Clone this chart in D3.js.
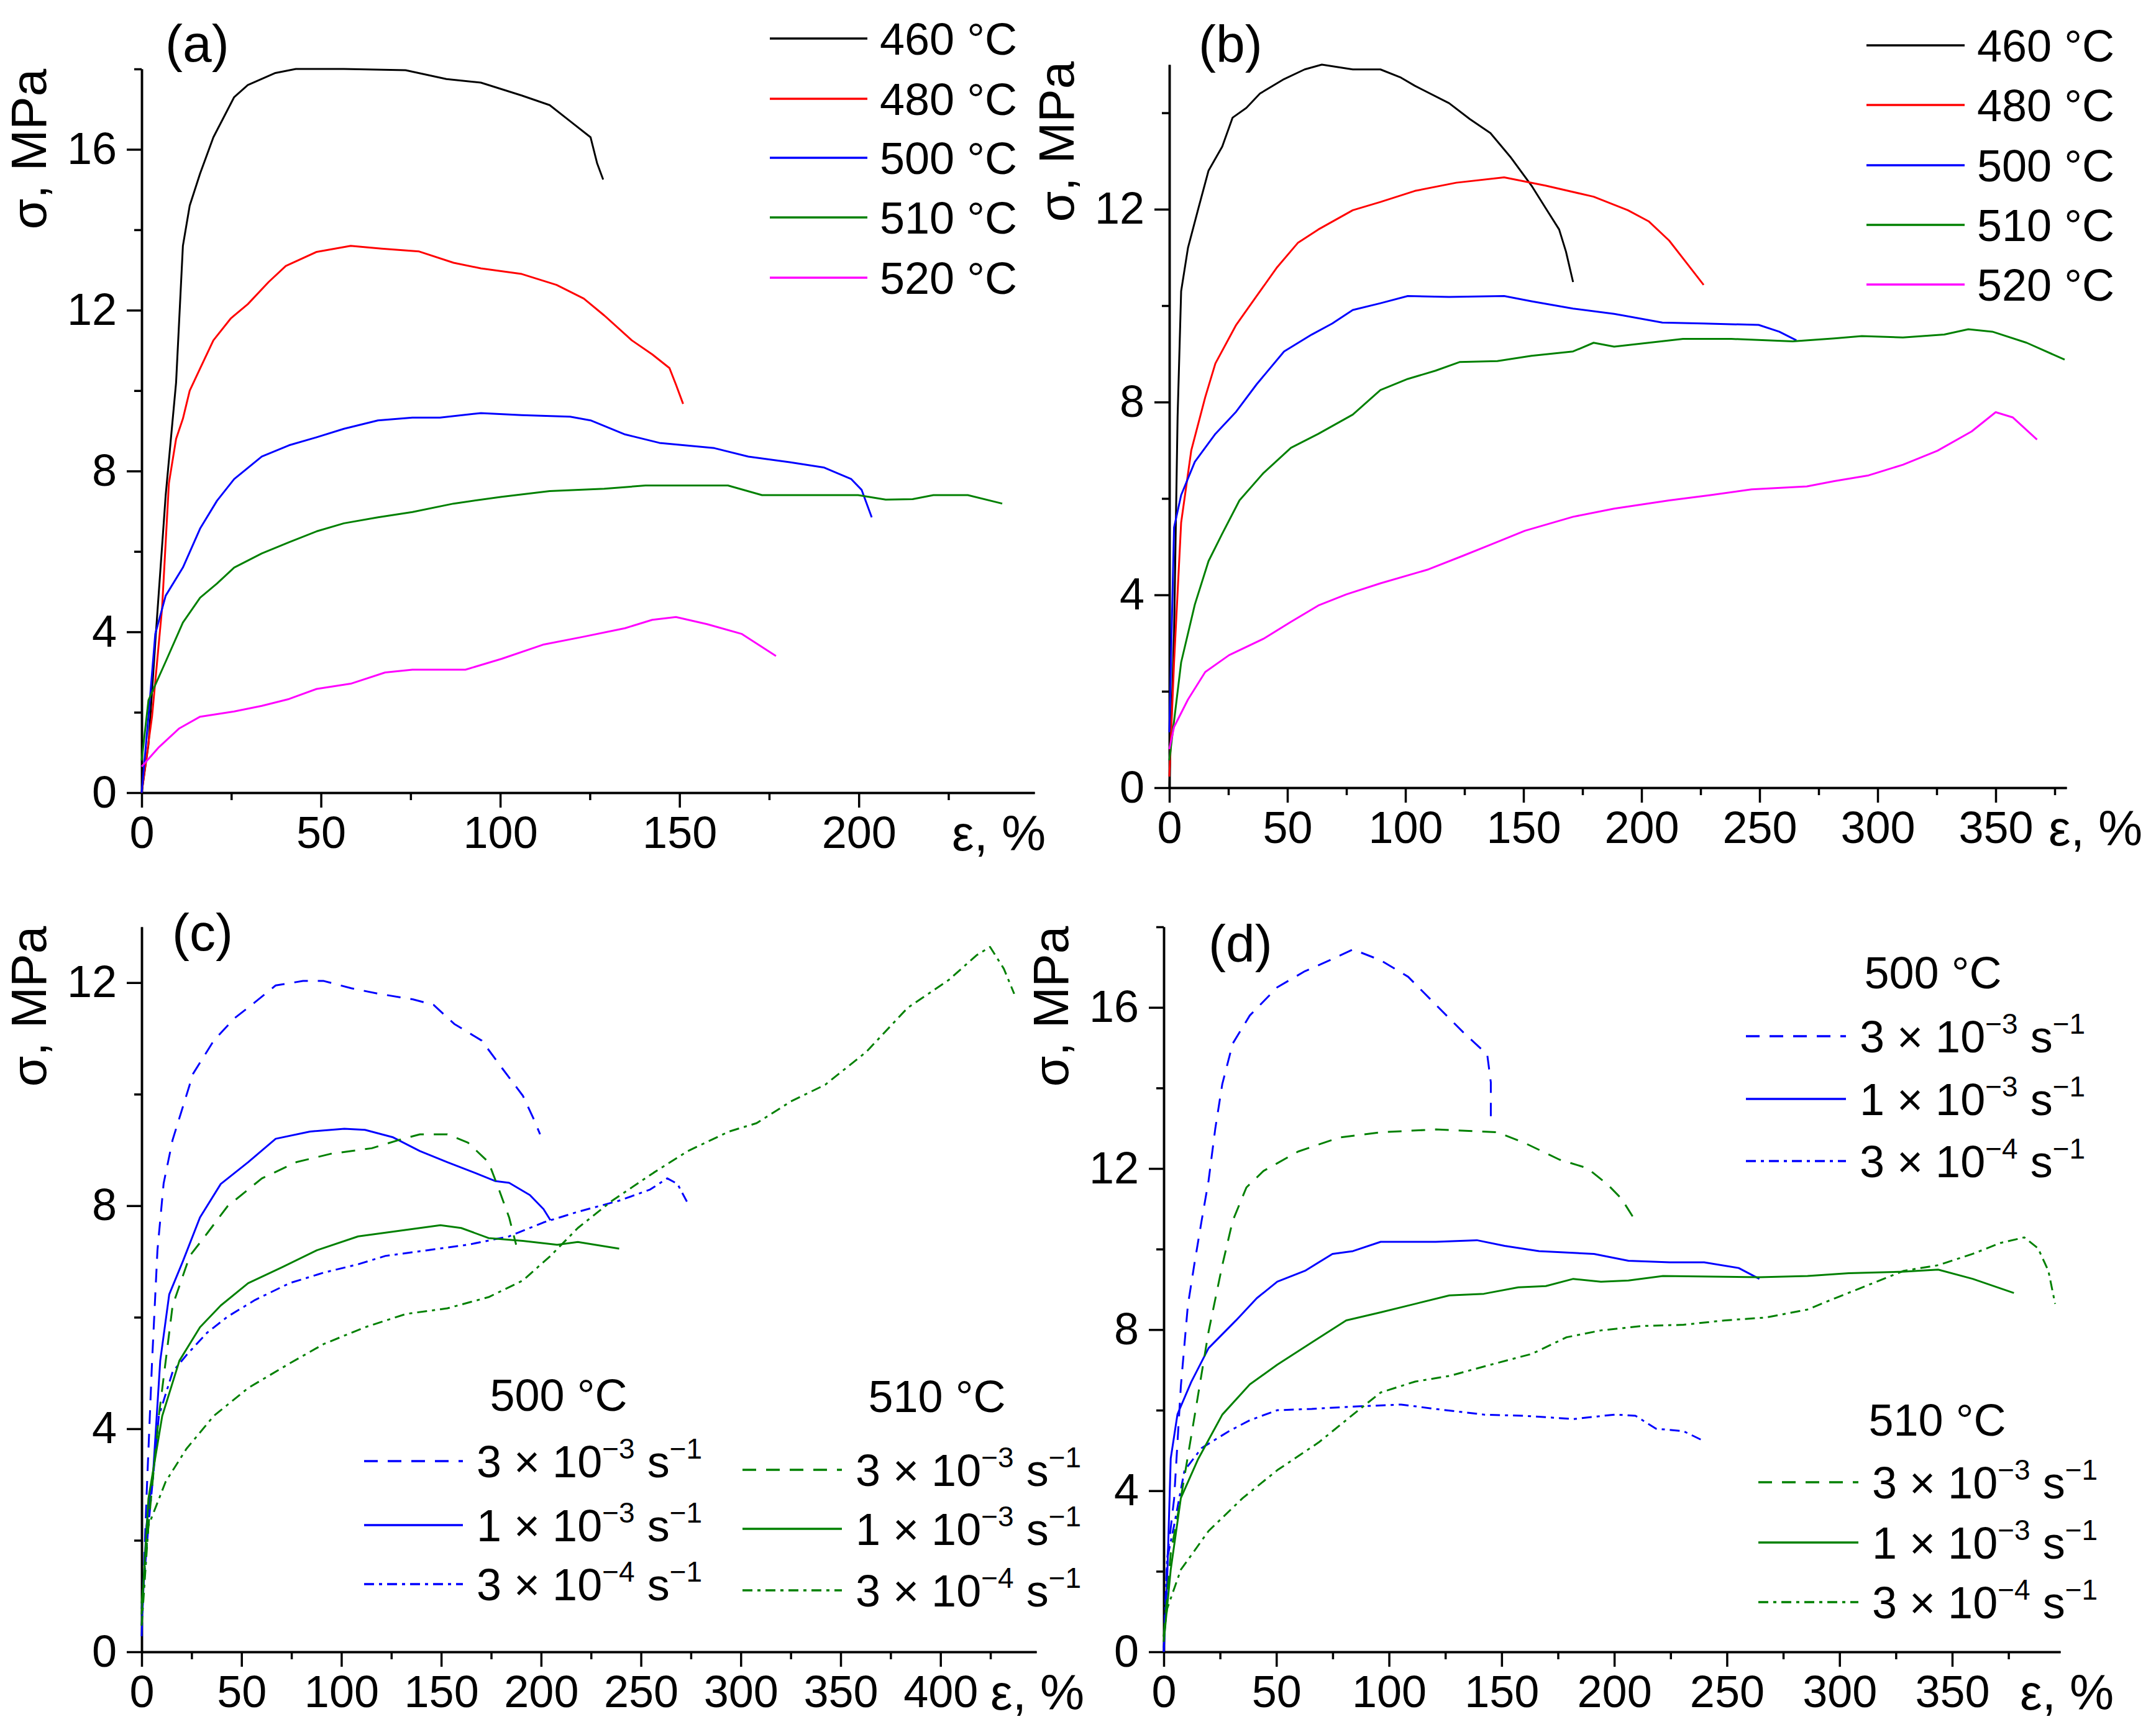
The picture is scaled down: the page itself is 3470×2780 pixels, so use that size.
<!DOCTYPE html>
<html>
<head>
<meta charset="utf-8">
<script src="https://cdnjs.cloudflare.com/ajax/libs/d3/7.8.5/d3.min.js"></script>
<style>
body { margin: 0; background: #fff; }
svg { display: block; font-family: "Liberation Sans", Arial, sans-serif; }
.axis path, .axis line { stroke: #000; stroke-width: 3.5; }
.axis text { font-size: 72px; fill: #000; font-family: "Liberation Sans", Arial, sans-serif; }
.curve { fill: none; stroke-width: 3; stroke-linejoin: round; }
</style>
</head>
<body>
<div id="chart"></div>
<script>
var width = 3470,
    height = 2780;

// ---- (a) temperatures, 1e-3 s-1 : [strain %, stress MPa]
var a460 = [[0,0],[1.9,1.2],[4,4],[6.7,7.4],[9.6,10.2],[11.5,13.6],[13.4,14.6],[16.3,15.4],[20,16.3],[25.8,17.3],[29.6,17.6],[37.3,17.9],[43,18.0],[56.4,18.0],[73.6,17.97],[85,17.75],[94.6,17.66],[106,17.34],[113.8,17.1],[119.5,16.7],[125.2,16.3],[127,15.66],[128.7,15.25]];
var a480 = [[0,0],[2.9,1.9],[5.7,4.6],[7.6,7.7],[9.6,8.8],[11.5,9.3],[13.4,10.0],[16.3,10.55],[20,11.25],[24.9,11.8],[29.6,12.15],[35.4,12.7],[40.2,13.1],[48.8,13.45],[58.3,13.6],[66.9,13.53],[77.4,13.46],[87,13.18],[94.6,13.04],[106,12.9],[115.7,12.63],[123.3,12.29],[129,11.87],[136.7,11.25],[142.4,10.9],[147.2,10.56],[149,10.15],[151,9.67]];
var a500 = [[0,0],[1.9,1.9],[3.8,3.95],[6.7,4.9],[11.5,5.6],[16.3,6.57],[21,7.26],[25.8,7.8],[33.5,8.36],[41.1,8.64],[48.8,8.84],[56.4,9.05],[65.9,9.26],[75.5,9.33],[83.2,9.33],[94.6,9.44],[106,9.39],[119.5,9.35],[125.2,9.26],[134.8,8.91],[144.4,8.7],[159.7,8.57],[169.2,8.36],[180.7,8.22],[190.2,8.09],[197.9,7.8],[200.8,7.53],[203.6,6.85]];
var a510 = [[0,0.8],[1.9,2.3],[6.7,3.26],[11.5,4.23],[16.3,4.85],[21,5.2],[25.8,5.6],[33.5,5.95],[41.1,6.23],[48.8,6.5],[56.4,6.7],[65.9,6.85],[75.5,6.98],[87,7.19],[100.4,7.36],[113.8,7.5],[129,7.56],[140.5,7.64],[163.5,7.64],[173,7.4],[199.8,7.4],[207.5,7.29],[215,7.3],[220.8,7.4],[230.4,7.4],[240,7.19]];
var a520 = [[0,0.65],[4.8,1.13],[10.5,1.6],[16.3,1.89],[25.8,2.02],[33.5,2.16],[41.1,2.33],[48.8,2.58],[58.3,2.71],[67.9,2.99],[75.5,3.06],[90.3,3.06],[100.4,3.33],[111.9,3.68],[123.3,3.88],[134.8,4.09],[142.4,4.3],[149,4.37],[157.7,4.19],[167.3,3.95],[176.9,3.4]];

// ---- (b) temperatures, 3e-4 s-1
var b460 = [[0,0],[2,3.2],[3.5,7.7],[5,10.3],[7.9,11.2],[12.2,12.0],[16.6,12.8],[22.4,13.3],[26.8,13.9],[32.6,14.1],[38.4,14.4],[48.6,14.7],[57.3,14.9],[64.6,15.0],[77.7,14.9],[89.4,14.9],[98.1,14.73],[104,14.56],[118.5,14.2],[127.3,13.87],[136,13.58],[144.7,13.07],[153.4,12.49],[159.3,12.03],[165.1,11.58],[168,11.12],[171,10.49]];
var b480 = [[0,0.23],[2,2.6],[5,5.5],[9.3,7.0],[15.2,8.1],[19.5,8.8],[28.3,9.6],[37,10.2],[45.7,10.8],[54.4,11.3],[63.1,11.58],[77.7,11.98],[89.4,12.15],[104,12.38],[121.5,12.55],[141.8,12.66],[159.3,12.49],[179.7,12.26],[194.2,11.98],[203,11.75],[211.7,11.35],[219,10.89],[226.3,10.43]];
var b500 = [[0,1.15],[2,5.4],[5,6.07],[10.8,6.76],[19.5,7.34],[28.3,7.8],[37,8.37],[48.6,9.05],[60.3,9.4],[69,9.63],[77.7,9.91],[89.4,10.05],[101,10.2],[118.5,10.18],[141.8,10.2],[153.4,10.09],[171,9.94],[188.4,9.83],[208.8,9.65],[226.3,9.63],[249.6,9.6],[258.3,9.46],[265.6,9.28]];
var b510 = [[0,0.57],[5,2.6],[10.8,3.8],[16.6,4.7],[22.4,5.27],[29.7,5.96],[39.9,6.53],[51.5,7.05],[63.1,7.34],[77.7,7.74],[89.4,8.25],[101,8.48],[112.7,8.65],[122.9,8.83],[138.9,8.85],[153.4,8.96],[171,9.05],[179.7,9.23],[188.4,9.15],[203,9.23],[217.6,9.31],[238,9.31],[264,9.26],[281.6,9.32],[293.3,9.37],[310.7,9.34],[328.2,9.4],[338.4,9.51],[348.6,9.46],[363.1,9.23],[379.2,8.88]];
var b520 = [[0,0.8],[2,1.26],[7.9,1.83],[15.2,2.4],[25.3,2.75],[39.9,3.09],[51.5,3.44],[63.1,3.78],[74.9,4.01],[89.4,4.24],[109.8,4.53],[124.3,4.81],[136,5.04],[150.6,5.33],[171,5.62],[188.4,5.79],[211.7,5.96],[229.2,6.07],[246.6,6.19],[270,6.25],[281.6,6.36],[296.2,6.48],[310.7,6.7],[325.3,6.99],[339.8,7.39],[350,7.79],[357.3,7.68],[367.5,7.22]];

// ---- (c) strain rates at 500 and 510 C
var c500r3e3 = [[0,0.28],[2.4,2.75],[5.2,5.2],[7.9,7.2],[11,8.4],[15.5,9.18],[20.6,9.77],[25.8,10.37],[36.1,10.96],[46.4,11.36],[56.8,11.65],[67.1,11.95],[80.8,12.03],[91.2,12.03],[104.9,11.9],[118.7,11.8],[135.9,11.7],[146.2,11.6],[156.5,11.26],[170.3,10.96],[180.6,10.46],[190.9,9.97],[196.1,9.57],[199.5,9.28]];
var c500r1e3 = [[0,0.47],[2.4,2.26],[5.8,3.24],[9.3,5.22],[13.8,6.41],[20.6,7.0],[29.2,7.79],[39.6,8.39],[53.3,8.78],[67.1,9.2],[84.3,9.33],[101.5,9.38],[111.8,9.36],[125.6,9.23],[139.3,8.98],[153.1,8.78],[166.8,8.59],[177.2,8.44],[184,8.41],[194.4,8.19],[201.2,7.94],[204.7,7.74]];
var c500r3e4 = [[0,0.77],[3.4,2.26],[8.6,4.23],[15.5,5.02],[22.4,5.32],[32.7,5.72],[43,6.01],[56.8,6.31],[74,6.61],[91.2,6.8],[108.4,6.95],[122.1,7.1],[142.8,7.2],[163.4,7.3],[184,7.45],[201.2,7.7],[218.4,7.89],[239.1,8.09],[254.6,8.29],[263.2,8.49],[268.3,8.39],[273.5,8.04]];
var c510r3e3 = [[0,0.87],[3.4,2.26],[8.6,4.23],[15.5,6.21],[24.1,7.1],[32.7,7.5],[43,7.99],[60.2,8.49],[77.4,8.78],[94.6,8.93],[115.2,9.03],[129,9.18],[139.3,9.28],[153.1,9.28],[163.4,9.13],[173.7,8.78],[178.9,8.29],[184,7.79],[187.5,7.3]];
var c510r1e3 = [[0,0.67],[3.4,2.75],[10.3,4.23],[18.9,5.22],[29.2,5.82],[39.6,6.21],[53.3,6.61],[70.5,6.9],[87.7,7.2],[108.4,7.45],[129,7.55],[149.6,7.65],[160,7.6],[173.7,7.42],[190.9,7.37],[208.1,7.3],[218.4,7.35],[239.1,7.23]];
var c510r3e4 = [[0,0.47],[3.4,2.26],[12,3.05],[22.4,3.64],[36.1,4.23],[53.3,4.73],[74,5.17],[91.2,5.52],[111.8,5.82],[132.5,6.06],[153.1,6.16],[173.7,6.36],[190.9,6.66],[204.7,7.1],[218.4,7.6],[235.6,8.09],[256.3,8.59],[273.5,8.98],[294.1,9.33],[307.9,9.48],[325.1,9.87],[342.3,10.17],[362.9,10.76],[383.6,11.55],[404.2,12.05],[418,12.49],[424.8,12.64],[431.7,12.25],[436.9,11.8]];

// ---- (d) strain rates at 500 and 510 C, second material state
var d500r3e3 = [[0,0],[1.5,2.3],[4.6,3.8],[7.6,6.6],[10.7,8.6],[13.8,9.7],[16.8,10.7],[19.9,11.7],[22.9,13.0],[26,14.1],[30.6,15.1],[38.2,15.8],[50.4,16.5],[62.7,16.9],[74.9,17.2],[84,17.44],[96.3,17.17],[108.5,16.76],[120.7,16.07],[133,15.38],[143.6,14.83],[145.2,14.14],[145.2,13.3]];
var d500r1e3 = [[0,0],[1.5,1.76],[3.1,4.8],[6.1,5.9],[12.2,6.7],[19.9,7.54],[32.1,8.23],[41.3,8.78],[50.4,9.19],[62.7,9.46],[74.9,9.88],[84,9.95],[96.3,10.18],[120.7,10.18],[139,10.22],[151.3,10.08],[166.6,9.95],[191,9.88],[206.3,9.71],[224.6,9.67],[239.9,9.67],[255.2,9.53],[264.4,9.26]];
var d500r3e4 = [[0,0.1],[1.5,2.3],[4.6,3.14],[9.2,4.5],[16.8,5.06],[29,5.48],[38.2,5.75],[50.4,6.0],[65.7,6.03],[84,6.09],[105.4,6.14],[120.7,6.03],[142.1,5.89],[160.4,5.86],[181.8,5.78],[200.2,5.89],[209.4,5.86],[218.5,5.54],[230.7,5.48],[238.4,5.27]];
var d510r3e3 = [[0,0.38],[3.1,2.45],[7.6,3.82],[13.8,5.89],[19.9,7.95],[26,9.6],[30.6,10.7],[36.7,11.53],[44.3,11.94],[59.6,12.42],[77.9,12.77],[96.3,12.9],[120.7,12.97],[148.2,12.9],[160.4,12.63],[175.7,12.22],[188,12.01],[197.1,11.6],[203.2,11.25],[209.4,10.7]];
var d510r1e3 = [[0,0.25],[3.1,2.04],[7.6,3.82],[15.3,4.79],[26,5.89],[38.2,6.64],[50.4,7.13],[65.7,7.68],[81,8.23],[96.3,8.43],[111.6,8.64],[126.8,8.85],[142.1,8.89],[157.4,9.05],[169.6,9.08],[181.8,9.26],[194.1,9.19],[206.3,9.22],[221.6,9.33],[264.4,9.3],[285.8,9.33],[304.1,9.4],[328.5,9.44],[343.8,9.49],[359.1,9.26],[377.4,8.91]];
var d510r3e4 = [[0,0.38],[1.5,1.07],[7.6,2.04],[19.9,3.0],[35.1,3.82],[50.4,4.51],[68.8,5.2],[84,5.89],[96.3,6.44],[111.6,6.71],[126.8,6.85],[145.2,7.13],[163.5,7.4],[178.8,7.81],[194.1,7.98],[212.4,8.09],[230.7,8.12],[249.1,8.23],[267.4,8.3],[285.8,8.5],[298,8.78],[313.3,9.12],[328.5,9.46],[343.8,9.6],[359.1,9.88],[371.3,10.15],[382,10.29],[388.1,10.02],[392.7,9.46],[395.7,8.64]];

// ---- labels and ticks
var tempLabels = ['460 °C', '480 °C', '500 °C', '510 °C', '520 °C'];
var tempColors = ['#000000', '#ff0000', '#0000ff', '#008000', '#ff00ff'];
var rateMantissa = ['3', '1', '3'];
var rateExponent = ['3', '3', '4'];
var rateDash = ['22,16', null, '16,8,5,8'];

var ticksX250 = [0, 50, 100, 150, 200];
var ticksX400 = [0, 50, 100, 150, 200, 250, 300, 350];
var ticksX450 = [0, 50, 100, 150, 200, 250, 300, 350, 400];
var ticksY16 = [0, 4, 8, 12, 16];
var ticksY12 = [0, 4, 8, 12];

function minorOf(major, step, max) {
    var out = [];
    major.forEach(function (v) { if (v + step <= max) out.push(v + step); });
    return out;
}

var svg = d3.select('#chart').append('svg')
    .attr('width', width)
    .attr('height', height)
    .attr('viewBox', '0 0 ' + width + ' ' + height);

var panels = [
    { name: '(a)', left: 228, right: 1665, top: 111, bottom: 1276, xMax: 249, yMax: 18,
      xTicks: ticksX250, yTicks: ticksY16, yMinorMax: 18,
      labelX: 266, labelY: 99, yTitleX: 74, yTitleY: 240, xTitleX: 1532,
      series: [a460, a480, a500, a510, a520].map(function (d, i) { return { data: d, color: tempColors[i], dash: null }; }),
      legend: { type: 'temp', x1: 1239, x2: 1396, ys: [62, 159, 254, 350, 447] } },
    { name: '(b)', left: 1882, right: 3326, top: 104, bottom: 1268, xMax: 380, yMax: 15,
      xTicks: ticksX400, yTicks: ticksY12, yMinorMax: 15,
      labelX: 1929, labelY: 100, yTitleX: 1728, yTitleY: 228, xTitleX: 3297,
      series: [b460, b480, b500, b510, b520].map(function (d, i) { return { data: d, color: tempColors[i], dash: null }; }),
      legend: { type: 'temp', x1: 3004, x2: 3162, ys: [73, 169, 266, 362, 458] } },
    { name: '(c)', left: 228, right: 1668, top: 1492, bottom: 2659, xMax: 448, yMax: 13,
      xTicks: ticksX450, yTicks: ticksY12, yMinorMax: 13,
      labelX: 277, labelY: 1530, yTitleX: 74, yTitleY: 1620, xTitleX: 1594,
      series: [c500r3e3, c500r1e3, c500r3e4, c510r3e3, c510r1e3, c510r3e4].map(function (d, i) {
          return { data: d, color: i < 3 ? '#0000ff' : '#008000', dash: rateDash[i % 3] };
      }),
      legend: { type: 'rate', groups: [
          { title: '500 °C', titleX: 899, titleY: 2245, color: '#0000ff', x1: 586, x2: 745, ys: [2352, 2455, 2550] },
          { title: '510 °C', titleX: 1508, titleY: 2247, color: '#008000', x1: 1195, x2: 1355, ys: [2366, 2461, 2560] }
      ] } },
    { name: '(d)', left: 1873, right: 3316, top: 1492, bottom: 2659, xMax: 398, yMax: 18,
      xTicks: ticksX400, yTicks: ticksY16, yMinorMax: 18,
      labelX: 1945, labelY: 1548, yTitleX: 1719, yTitleY: 1620, xTitleX: 3251,
      series: [d500r3e3, d500r1e3, d500r3e4, d510r3e3, d510r1e3, d510r3e4].map(function (d, i) {
          return { data: d, color: i < 3 ? '#0000ff' : '#008000', dash: rateDash[i % 3] };
      }),
      legend: { type: 'rate', groups: [
          { title: '500 °C', titleX: 3111, titleY: 1565, color: '#0000ff', x1: 2810, x2: 2971, ys: [1668, 1769, 1869] },
          { title: '510 °C', titleX: 3118, titleY: 2285, color: '#008000', x1: 2830, x2: 2991, ys: [2386, 2483, 2579] }
      ] } }
];

function rateLabel(g, x, y, k) {
    var t = g.append('text')
        .attr('x', x)
        .attr('y', y + 26)
        .attr('font-size', 72);
    t.append('tspan').text(rateMantissa[k] + ' × 10');
    t.append('tspan').attr('font-size', 46).attr('dy', -30).text('−' + rateExponent[k]);
    t.append('tspan').attr('dy', 30).text(' s');
    t.append('tspan').attr('font-size', 46).attr('dy', -30).text('−1');
}

function drawPanel(p) {
    var g = svg.append('g');

    var x = d3.scaleLinear().domain([0, p.xMax]).range([p.left, p.right]);
    var y = d3.scaleLinear().domain([0, p.yMax]).range([p.bottom, p.top]);

    var xMinor = minorOf(p.xTicks, 25, p.xMax);
    var yMinor = minorOf(p.yTicks, 2, p.yMinorMax);

    g.append('g').attr('class', 'axis')
        .attr('transform', 'translate(0,' + p.bottom + ')')
        .call(d3.axisBottom(x).tickValues(xMinor).tickSize(12).tickSizeOuter(0).tickFormat(''));
    g.append('g').attr('class', 'axis')
        .attr('transform', 'translate(' + p.left + ',0)')
        .call(d3.axisLeft(y).tickValues(yMinor).tickSize(12).tickSizeOuter(0).tickFormat(''));

    g.append('g').attr('class', 'axis')
        .attr('transform', 'translate(0,' + p.bottom + ')')
        .call(d3.axisBottom(x).tickValues(p.xTicks).tickSize(24).tickSizeOuter(0).tickPadding(14).tickFormat(d3.format('d')));
    g.append('g').attr('class', 'axis')
        .attr('transform', 'translate(' + p.left + ',0)')
        .call(d3.axisLeft(y).tickValues(p.yTicks).tickSize(24).tickSizeOuter(0).tickPadding(16).tickFormat(d3.format('d')));

    var line = d3.line()
        .x(function (d) { return x(d[0]); })
        .y(function (d) { return y(d[1]); });

    p.series.forEach(function (s) {
        g.append('path')
            .attr('class', 'curve')
            .attr('d', line(s.data))
            .attr('stroke', s.color)
            .attr('stroke-dasharray', s.dash);
    });

    // panel letter
    g.append('text')
        .attr('x', p.labelX)
        .attr('y', p.labelY)
        .attr('font-size', 84)
        .text(p.name);

    // axis titles
    g.append('text')
        .attr('transform', 'translate(' + p.yTitleX + ',' + p.yTitleY + ') rotate(-90)')
        .attr('text-anchor', 'middle')
        .attr('font-size', 80)
        .text('σ, MPa');

    g.append('text')
        .attr('x', p.xTitleX)
        .attr('y', p.bottom + 93)
        .attr('font-size', 80)
        .text('ε, %');

    var lg = p.legend;
    if (lg.type === 'temp') {
        lg.ys.forEach(function (ly, i) {
            g.append('line')
                .attr('x1', lg.x1).attr('x2', lg.x2)
                .attr('y1', ly).attr('y2', ly)
                .attr('stroke', tempColors[i])
                .attr('stroke-width', 3.5);
            g.append('text')
                .attr('x', lg.x2 + 20)
                .attr('y', ly + 26)
                .attr('font-size', 72)
                .text(tempLabels[i]);
        });
    } else {
        lg.groups.forEach(function (grp) {
            g.append('text')
                .attr('x', grp.titleX)
                .attr('y', grp.titleY + 26)
                .attr('text-anchor', 'middle')
                .attr('font-size', 72)
                .text(grp.title);
            grp.ys.forEach(function (ly, k) {
                g.append('line')
                    .attr('x1', grp.x1).attr('x2', grp.x2)
                    .attr('y1', ly).attr('y2', ly)
                    .attr('stroke', grp.color)
                    .attr('stroke-width', 3.5)
                    .attr('stroke-dasharray', rateDash[k]);
                rateLabel(g, grp.x2 + 22, ly, k);
            });
        });
    }
}

panels.forEach(drawPanel);
</script>
</body>
</html>
